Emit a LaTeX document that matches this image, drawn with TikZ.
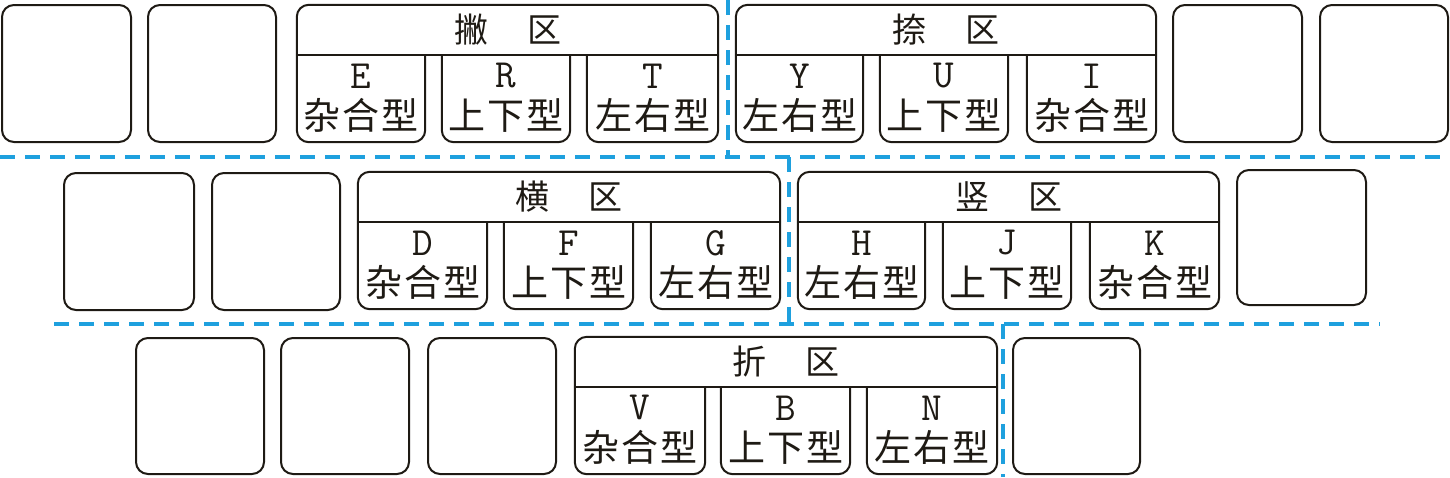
\documentclass[tikz,border=0pt]{standalone}
\usepackage{fontspec}
\usetikzlibrary{fit}
\newfontfamily\cjk{Noto Sans CJK SC}
\newfontfamily\latmono{Latin Modern Mono}
\definecolor{inkc}{RGB}{30,26,20}
\definecolor{dashc}{RGB}{30,160,222}
\tikzset{
  keyline/.style={draw=inkc, line width=2pt},
  keybox/.style={keyline, rounded corners=12pt, inner sep=0pt},
  area/.style={inner sep=0pt},
  hdrtext/.style={font=\cjk\fontsize{34}{34}\selectfont, text=inkc, inner sep=0pt},
  lettext/.style={font=\latmono\fontsize{40}{40}\selectfont, text=inkc, inner sep=0pt},
  typtext/.style={font=\cjk\fontsize{37}{37}\selectfont, text=inkc, inner sep=0pt},
  zone/.style={draw=dashc, line width=3.5pt, dash pattern=on 15pt off 10pt}
}
% key box: name, x1, y1, x2, y2
\newcommand\mykey[5]{\node[keybox, fit={(#2,#3) (#4,#5)}] (#1) {};}
% group header: name, x1, x2, ytop, yline, first char, second char
\newcommand\grphead[7]{%
  \node[area, fit={(#2,#4) (#3,#5)}] (#1) {};
  \node[hdrtext] (#1t) at (#1.center) {#6\hspace{39pt}#7};
  \draw[keyline, rounded corners=12pt] (#1.south west) -- (#1.north west) -- (#1.north east) -- (#1.south east);
  \draw[keyline] (#1.south west) -- (#1.south east);}
% sub key: name, x1, x2, ytop, ybot, letter, type
\newcommand\subkey[7]{%
  \node[area, fit={(#2,#4) (#3,#5)}] (#1) {};
  \node[lettext] (#1l) at ([yshift=-21pt]#1.north) {#6};
  \node[typtext] (#1t) at ([yshift=-61pt]#1.north) {#7};
  \draw[keyline, rounded corners=12pt] (#1.north west) -- (#1.south west) -- (#1.south east) -- (#1.north east);}
\newcommand\zaz{杂\hspace{2pt}合\hspace{2pt}型}
\newcommand\sxz{上\hspace{2pt}下\hspace{2pt}型}
\newcommand\zyz{左\hspace{2pt}右\hspace{2pt}型}
\begin{document}
\begin{tikzpicture}[x=1pt,y=-1pt]
\useasboundingbox (0,0) rectangle (1450,477);
% row 1
\mykey{q1}{2}{5}{131}{142}
\mykey{q2}{148}{5}{276}{142}
\grphead{pie}{297}{718}{5}{55}{撇}{区}
\subkey{kE}{297}{425}{55}{142}{E}{\zaz}
\subkey{kR}{442}{570}{55}{142}{R}{\sxz}
\subkey{kT}{587}{718}{55}{142}{T}{\zyz}
\grphead{na}{736}{1156}{5}{55}{捺}{区}
\subkey{kY}{736}{863}{55}{142}{Y}{\zyz}
\subkey{kU}{880}{1008}{55}{142}{U}{\sxz}
\subkey{kI}{1027}{1156}{55}{142}{I}{\zaz}
\mykey{q3}{1173}{5}{1302}{142}
\mykey{q4}{1320}{5}{1448}{142}
% row 2
\mykey{a1}{64}{173}{194}{310}
\mykey{a2}{212}{173}{340}{310}
\grphead{heng}{358}{780}{172}{222}{横}{区}
\subkey{kD}{358}{487}{222}{309}{D}{\zaz}
\subkey{kF}{504}{633}{222}{309}{F}{\sxz}
\subkey{kG}{651}{780}{222}{309}{G}{\zyz}
\grphead{shu}{798}{1219}{172}{222}{竖}{区}
\subkey{kH}{798}{925}{222}{309}{H}{\zyz}
\subkey{kJ}{943}{1071}{222}{309}{J}{\sxz}
\subkey{kK}{1090}{1219}{222}{309}{K}{\zaz}
\mykey{a3}{1237}{170}{1366}{305}
% row 3
\mykey{z1}{136}{338}{264}{474}
\mykey{z2}{281}{338}{409}{474}
\mykey{z3}{428}{338}{556}{474}
\grphead{zhe}{575}{997}{337}{387}{折}{区}
\subkey{kV}{575}{705}{387}{474}{V}{\zaz}
\subkey{kB}{721}{850}{387}{474}{B}{\sxz}
\subkey{kN}{867}{997}{387}{474}{N}{\zyz}
\mykey{z4}{1013}{338}{1140}{474}
% zone lines
\coordinate (h1a) at (0,157);
\coordinate (h1b) at (1450,157);
\coordinate (h2a) at (54,324);
\coordinate (h2b) at (1380,324);
\coordinate (v1a) at (728,0);
\coordinate (v1b) at (728,157);
\coordinate (v2a) at (789,157);
\coordinate (v2b) at (789,324);
\coordinate (v3a) at (1003,324);
\coordinate (v3b) at (1003,477);
\draw[zone] (h1a) -- (h1b);
\draw[zone] (h2a) -- (h2b);
\draw[zone] (v1a) -- (v1b);
\draw[zone] (v2a) -- (v2b);
\draw[zone] (v3a) -- (v3b);
\end{tikzpicture}
\end{document}
